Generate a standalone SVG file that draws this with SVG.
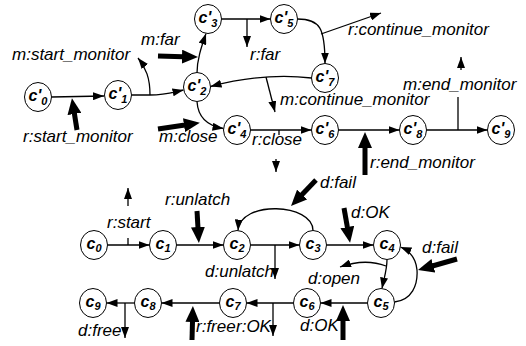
<svg xmlns="http://www.w3.org/2000/svg" width="526" height="346" viewBox="0 0 526 346">
<style>
.n ellipse{fill:#fff;stroke:#000;stroke-width:1}
.n text{font-family:"Liberation Sans",Arial,sans-serif;font-style:italic;font-weight:bold;font-size:16px;text-anchor:middle}
.n .s{font-size:11px}
.e path{fill:none;stroke:#000;stroke-width:1.3}
.e path.a{marker-end:url(#ah)}
.e path.t{stroke-width:5;marker-end:url(#big)}
.l{font-family:"Liberation Sans",Arial,sans-serif;font-style:italic;font-size:17px;fill:#000}
</style>
<defs>
<marker id="ah" markerUnits="userSpaceOnUse" markerWidth="12" markerHeight="8" refX="11" refY="4" orient="auto"><path d="M0,0 L11,4 L0,8 z" fill="#000"/></marker>
<marker id="big" markerUnits="userSpaceOnUse" markerWidth="18" markerHeight="14" refX="1" refY="7" orient="auto"><path d="M0,0 L16,7 L0,14 z" fill="#000"/></marker>
</defs>
<rect width="526" height="346" fill="#fff"/>
<g class="e" id="connectors">
<path class="a" d="M51.5,97 L104,96"/>
<path class="t" d="M77,130 L74.3,113"/>
<path class="a" d="M131.5,95 L150,95 C165,95 170,93 183.5,90"/>
<path class="a" d="M150,95 C150,78 146,68 138,58"/>
<path class="a" d="M197,73 C197,60 201,48 206,33.5"/>
<path class="t" d="M158,56 L183,56.7"/>
<path class="a" d="M221.5,19 L270.5,19"/>
<path class="a" d="M247,19 L247,47"/>
<path class="a" d="M297.5,19 C320,19 325,28 325,63.5"/>
<path class="a" d="M321,34 L381,13"/>
<path class="a" d="M311.5,78 C285,75 250,76 210.5,86.5"/>
<path class="a" d="M266,77 L275,112"/>
<path class="a" d="M197,101.5 C198,118 208,126 223.5,128.5"/>
<path class="t" d="M158,129 L185,125"/>
<path class="a" d="M250.5,130 L311.5,130"/>
<path d="M279,130 L279,135"/>
<path class="a" d="M276,159 L276,172"/>
<path class="a" d="M338.5,130 L399.5,130"/>
<path class="t" d="M365,175 L365,147"/>
<path class="a" d="M426.5,130 L487.5,130"/>
<path d="M458,130 L458,97"/>
<path class="a" d="M461,70 L461,57"/>
<path class="a" d="M107.5,245 L149.5,245"/>
<path d="M128,245 L128,238"/>
<path class="a" d="M128,206 L128,188"/>
<path class="a" d="M176.5,245 L223.5,245"/>
<path class="t" d="M197,211 L198,228"/>
<path class="a" d="M250.5,245 L299.5,245"/>
<path class="a" d="M275,245 L275,279"/>
<path class="a" d="M313,230.5 C313,203 240,200 238,230.5"/>
<path class="t" d="M316,180 L301.4,195.2"/>
<path class="a" d="M326.5,245 L373.5,245"/>
<path class="t" d="M344,208 L347.5,228"/>
<path class="a" d="M387,259.5 C387,270 384,278 382,288.5"/>
<path class="a" d="M386,266 Q365,258 340,267"/>
<path class="a" d="M394.5,302 C412,300 418,285 417,270 C416,259 410,251 400.5,247"/>
<path class="t" d="M457,259 L432.4,266"/>
<path class="a" d="M367.5,303 L320.5,303"/>
<path class="t" d="M343,340 L343,320"/>
<path class="a" d="M293.5,303 L246.5,303"/>
<path class="a" d="M273,303 L273,336"/>
<path class="a" d="M219.5,303 L161.5,303"/>
<path class="t" d="M192,340 L192.5,321"/>
<path class="a" d="M134.5,303 L106.5,303"/>
<path class="a" d="M125,303 L125,338"/>
</g>
<g id="labels">
<text class="l" x="12" y="60">m:start_monitor</text>
<text class="l" x="23" y="142">r:start_monitor</text>
<text class="l" x="141" y="45">m:far</text>
<text class="l" x="250" y="60">r:far</text>
<text class="l" x="348" y="35">r:continue_monitor</text>
<text class="l" x="280" y="105">m:continue_monitor</text>
<text class="l" x="159" y="142">m:close</text>
<text class="l" x="252" y="145">r:close</text>
<text class="l" x="370" y="168">r:end_monitor</text>
<text class="l" x="403" y="90">m:end_monitor</text>
<text class="l" x="107" y="228">r:start</text>
<text class="l" x="165" y="205">r:unlatch</text>
<text class="l" x="320" y="188">d:fail</text>
<text class="l" x="351" y="218">d:OK</text>
<text class="l" x="422" y="253">d:fail</text>
<text class="l" x="205" y="277">d:unlatch</text>
<text class="l" x="308" y="284">d:open</text>
<text class="l" x="300" y="331">d:OK</text>
<text class="l" x="236" y="332">r:OK</text>
<text class="l" x="196" y="332">r:free</text>
<text class="l" x="78" y="336">d:free</text>
</g>
<g class="n" id="cp0"><ellipse cx="38" cy="97" rx="13.5" ry="14.5"/><text x="38" y="101">c'<tspan class="s" dy="4">0</tspan></text></g>
<g class="n" id="cp1"><ellipse cx="118" cy="95" rx="13.5" ry="14.5"/><text x="118" y="99">c'<tspan class="s" dy="4">1</tspan></text></g>
<g class="n" id="cp2"><ellipse cx="197" cy="87" rx="13.5" ry="14.5"/><text x="197" y="91">c'<tspan class="s" dy="4">2</tspan></text></g>
<g class="n" id="cp3"><ellipse cx="208" cy="19" rx="13.5" ry="14.5"/><text x="208" y="23">c'<tspan class="s" dy="4">3</tspan></text></g>
<g class="n" id="cp4"><ellipse cx="237" cy="130" rx="13.5" ry="14.5"/><text x="237" y="134">c'<tspan class="s" dy="4">4</tspan></text></g>
<g class="n" id="cp5"><ellipse cx="284" cy="19" rx="13.5" ry="14.5"/><text x="284" y="23">c'<tspan class="s" dy="4">5</tspan></text></g>
<g class="n" id="cp6"><ellipse cx="325" cy="130" rx="13.5" ry="14.5"/><text x="325" y="134">c'<tspan class="s" dy="4">6</tspan></text></g>
<g class="n" id="cp7"><ellipse cx="325" cy="78" rx="13.5" ry="14.5"/><text x="325" y="82">c'<tspan class="s" dy="4">7</tspan></text></g>
<g class="n" id="cp8"><ellipse cx="413" cy="130" rx="13.5" ry="14.5"/><text x="413" y="134">c'<tspan class="s" dy="4">8</tspan></text></g>
<g class="n" id="cp9"><ellipse cx="501" cy="130" rx="13.5" ry="14.5"/><text x="501" y="134">c'<tspan class="s" dy="4">9</tspan></text></g>
<g class="n" id="c0"><ellipse cx="94" cy="245" rx="13.5" ry="14.5"/><text x="94" y="249">c<tspan class="s" dy="3">0</tspan></text></g>
<g class="n" id="c1"><ellipse cx="163" cy="245" rx="13.5" ry="14.5"/><text x="163" y="249">c<tspan class="s" dy="3">1</tspan></text></g>
<g class="n" id="c2"><ellipse cx="237" cy="245" rx="13.5" ry="14.5"/><text x="237" y="249">c<tspan class="s" dy="3">2</tspan></text></g>
<g class="n" id="c3"><ellipse cx="313" cy="245" rx="13.5" ry="14.5"/><text x="313" y="249">c<tspan class="s" dy="3">3</tspan></text></g>
<g class="n" id="c4"><ellipse cx="387" cy="245" rx="13.5" ry="14.5"/><text x="387" y="249">c<tspan class="s" dy="3">4</tspan></text></g>
<g class="n" id="c5"><ellipse cx="381" cy="303" rx="13.5" ry="14.5"/><text x="381" y="307">c<tspan class="s" dy="3">5</tspan></text></g>
<g class="n" id="c6"><ellipse cx="307" cy="303" rx="13.5" ry="14.5"/><text x="307" y="307">c<tspan class="s" dy="3">6</tspan></text></g>
<g class="n" id="c7"><ellipse cx="233" cy="303" rx="13.5" ry="14.5"/><text x="233" y="307">c<tspan class="s" dy="3">7</tspan></text></g>
<g class="n" id="c8"><ellipse cx="148" cy="303" rx="13.5" ry="14.5"/><text x="148" y="307">c<tspan class="s" dy="3">8</tspan></text></g>
<g class="n" id="c9"><ellipse cx="93" cy="303" rx="13.5" ry="14.5"/><text x="93" y="307">c<tspan class="s" dy="3">9</tspan></text></g>
</svg>
